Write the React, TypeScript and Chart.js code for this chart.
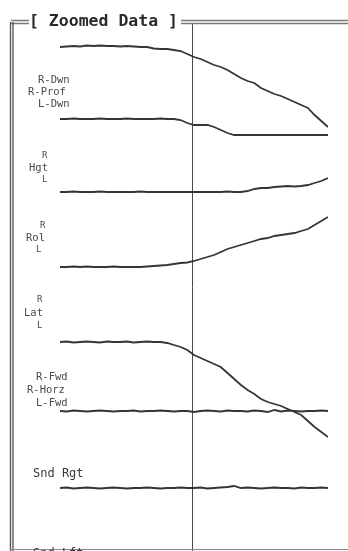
import React, { useEffect, useRef } from "react";
import { Chart, registerables } from "chart.js";

Chart.register(...registerables);

// time samples (index along the zoomed window)
const samples: number[] = [
  0, 1, 2, 3, 4, 5, 6, 7, 8, 9, 10, 11, 12, 13, 14, 15, 16, 17, 18, 19, 20,
  21, 22, 23, 24, 25, 26, 27, 28, 29, 30, 31, 32, 33, 34, 35, 36, 37, 38, 39, 40,
];
const cursorSample = 19.7;

// trace values (display units, stacked tracks)
const rDwn: number[] = [
  501, 501.5, 502, 501.5, 502.5, 502, 502.5, 502, 502, 501.5, 502, 501.5, 501, 501, 499.5, 499,
  499, 498, 497, 494, 491, 489, 486, 483, 481, 478, 474, 470, 467, 465, 460, 457, 454, 452, 449,
  446, 443, 440, 433, 427, 421,
];
const lDwn: number[] = [
  429, 429, 429.5, 429, 429, 429, 429.5, 429, 429, 429, 429.5, 429, 429, 429, 429, 429.5, 429,
  429, 428, 425, 423, 423, 423, 421, 418, 415, 413, 413, 413, 413, 413, 413, 413, 413, 413, 413,
  413, 413, 413, 413, 413,
];
const hgt: number[] = [
  356, 356, 356.5, 356, 356, 356, 356.5, 356, 356, 356, 356, 356, 356.5, 356, 356, 356, 356,
  356, 356, 356, 356, 356, 356, 356, 356, 356.5, 356, 356, 357, 359, 360, 360, 361, 361.5, 362,
  361.5, 362, 363, 365, 367, 370,
];
const rol: number[] = [
  281, 281, 281.5, 281, 281.5, 281, 281, 281, 281.5, 281, 281, 281, 281, 281.5, 282, 282.5, 283,
  284, 285, 285.5, 287, 289, 291, 293, 296, 299, 301, 303, 305, 307, 309, 310, 312, 313, 314,
  315, 317, 319, 323, 327, 331,
];
const lat: number[] = [
  206, 206.5, 205.5, 206, 206.5, 206, 205.5, 206.5, 206, 206, 206.5, 205.5, 206, 206.5, 206, 206,
  205, 203, 201, 198, 193, 190, 187, 184, 181, 175, 169, 163, 158, 154, 149, 146, 144, 142, 139,
  136, 133, 127, 121, 116, 111,
];
const fwd: number[] = [
  137, 136.5, 137.5, 137, 136.5, 137, 137.5, 137, 136.5, 137, 137, 137.5, 136.5, 137, 137, 137.5,
  137, 136.5, 137, 137, 136, 137, 137.5, 137, 136.5, 137.5, 137, 137, 136.5, 137.5, 137, 136,
  138, 136.5, 137.5, 137, 136.5, 137, 137, 137.5, 137,
];
const sndRgt: number[] = [
  60, 60.5, 59.5, 60, 60.5, 60, 59.5, 60, 60.5, 60, 59.5, 60, 60, 60.5, 60, 59.5, 60, 60, 60.5,
  60, 60, 60.5, 59.5, 60, 60.5, 61, 62, 60, 60.5, 60, 59.5, 60, 60.5, 60, 60, 59.5, 60.5, 60, 60,
  60.5, 60,
];

const seriesList: number[][] = [rDwn, lDwn, hgt, rol, lat, fwd, sndRgt];

const TRACE = "#353535";
const FRAME = "#505050";
const MONO = '"DejaVu Sans Mono", "Liberation Mono", monospace';

const framePlugin = {
  id: "printFrame",
  beforeDraw(chart: any) {
    const { ctx, width, height } = chart;
    ctx.save();
    ctx.fillStyle = "#ffffff";
    ctx.fillRect(0, 0, width, height);
    ctx.restore();
  },
  beforeDatasetsDraw(chart: any) {
    const { ctx } = chart;
    const xs = chart.scales.x;
    const cx = Math.round(xs.getPixelForValue(cursorSample)) + 0.5;
    ctx.save();
    ctx.strokeStyle = "#4a4a4a";
    ctx.lineWidth = 1;
    ctx.beginPath();
    ctx.moveTo(cx, 24);
    ctx.lineTo(cx, 551);
    ctx.stroke();
    ctx.restore();
  },
  afterDatasetsDraw(chart: any) {
    const { ctx, width } = chart;
    ctx.save();
    // top double rule
    ctx.strokeStyle = "#7a7a7a";
    ctx.lineWidth = 1.4;
    ctx.beginPath();
    ctx.moveTo(11, 20.5);
    ctx.lineTo(29, 20.5);
    ctx.moveTo(11, 23.5);
    ctx.lineTo(29, 23.5);
    ctx.moveTo(181, 20.5);
    ctx.lineTo(width, 20.5);
    ctx.moveTo(181, 23.5);
    ctx.lineTo(width, 23.5);
    ctx.stroke();
    // left double border
    ctx.strokeStyle = FRAME;
    ctx.lineWidth = 1.3;
    ctx.beginPath();
    ctx.moveTo(10.5, 22);
    ctx.lineTo(10.5, 551);
    ctx.moveTo(13, 22);
    ctx.lineTo(13, 551);
    ctx.stroke();
    // bottom rule
    ctx.strokeStyle = "#8a8a8a";
    ctx.lineWidth = 1;
    ctx.beginPath();
    ctx.moveTo(10, 549.5);
    ctx.lineTo(width, 549.5);
    ctx.stroke();

    // title
    ctx.fillStyle = "#2a2a2a";
    ctx.textBaseline = "middle";
    ctx.textAlign = "left";
    ctx.font = `bold 16.5px ${MONO}`;
    ctx.fillText("[ Zoomed Data ]", 29, 21.5);

    // track labels
    ctx.fillStyle = "#4a4a4a";
    const small = `10.5px ${MONO}`;
    ctx.font = small;
    ctx.fillText("R-Dwn", 38, 80);
    ctx.fillText("R-Prof", 28, 92);
    ctx.fillText("L-Dwn", 38, 104);

    ctx.font = `9px ${MONO}`;
    ctx.fillText("R", 42, 156);
    ctx.font = `10.5px ${MONO}`;
    ctx.fillText("Hgt", 29, 168);
    ctx.font = `9px ${MONO}`;
    ctx.fillText("L", 42, 180);

    ctx.font = `9px ${MONO}`;
    ctx.fillText("R", 40, 226);
    ctx.font = `10.5px ${MONO}`;
    ctx.fillText("Rol", 26, 238);
    ctx.font = `9px ${MONO}`;
    ctx.fillText("L", 36, 250);

    ctx.font = `9px ${MONO}`;
    ctx.fillText("R", 37, 300);
    ctx.font = `10.5px ${MONO}`;
    ctx.fillText("Lat", 24, 313);
    ctx.font = `9px ${MONO}`;
    ctx.fillText("L", 37, 326);

    ctx.font = small;
    ctx.fillText("R-Fwd", 36, 377);
    ctx.fillText("R-Horz", 27, 390);
    ctx.fillText("L-Fwd", 36, 403);

    ctx.font = `12px ${MONO}`;
    ctx.fillStyle = "#3a3a3a";
    ctx.fillText("Snd Rgt", 33, 474);
    ctx.fillText("Snd Lft", 33, 554);
    ctx.restore();
  },
};

export default function App() {
  const ref = useRef<HTMLCanvasElement | null>(null);

  useEffect(() => {
    if (!ref.current) return;
    const chart = new Chart(ref.current, {
      type: "line",
      data: {
        labels: samples,
        datasets: seriesList.map((s) => ({
          data: s.map((v, i) => ({ x: samples[i], y: v })),
          borderColor: TRACE,
          borderWidth: 1.8,
          pointRadius: 0,
          tension: 0,
          fill: false,
        })),
      },
      options: {
        animation: false,
        responsive: false,
        devicePixelRatio: 1,
        events: [],
        layout: { padding: { left: 60, right: 20, top: 22, bottom: 3 } },
        plugins: { legend: { display: false }, title: { display: false }, tooltip: { enabled: false } },
        scales: {
          x: { type: "linear", min: 0, max: 40, display: false },
          y: { type: "linear", min: 0, max: 526, display: false },
        },
      },
      plugins: [framePlugin],
    });
    return () => chart.destroy();
  }, []);

  return (
    <div style={{ position: "absolute", left: 0, top: 0, width: 348, height: 551, background: "#fff" }}>
      <canvas ref={ref} width={348} height={551} style={{ display: "block" }} />
    </div>
  );
}
